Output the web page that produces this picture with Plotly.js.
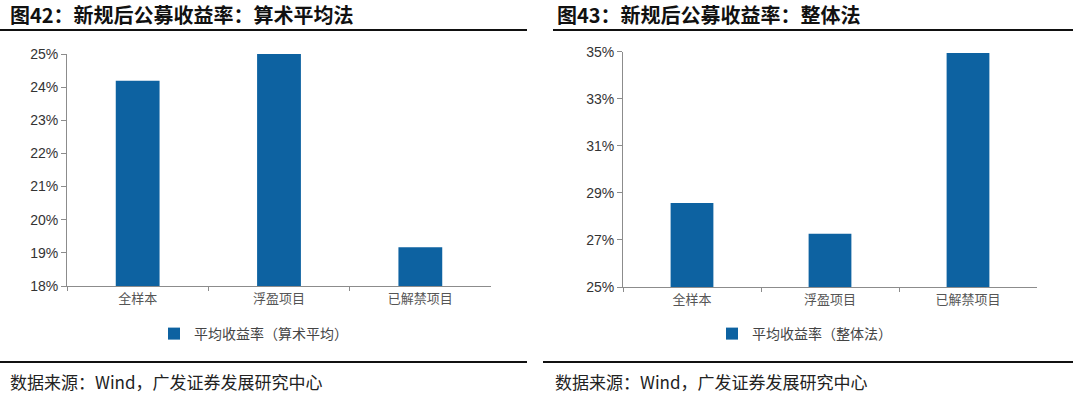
<!DOCTYPE html>
<html>
<head>
<meta charset="utf-8">
<script src="https://cdn.plot.ly/plotly-3.0.1.min.js"></script>
<style>
html,body{margin:0;padding:0;background:#fff;}
#chart{width:1080px;height:399px;}
</style>
</head>
<body>
<div id="chart"></div>
<script>
// Data
const categories = ['全样本', '浮盈项目', '已解禁项目'];
const arithmeticValues = [24.19, 25.0, 19.17];
const overallValues = [28.57, 27.26, 34.95];
const leftTitle = '图42：新规后公募收益率：算术平均法';
const rightTitle = '图43：新规后公募收益率：整体法';
const leftSeriesName = '平均收益率（算术平均）';
const rightSeriesName = '平均收益率（整体法）';
const sourceText = '数据来源：Wind，广发证券发展研究中心';
const leftTicks = [18, 19, 20, 21, 22, 23, 24, 25];
const leftTickLabels = ['18%', '19%', '20%', '21%', '22%', '23%', '24%', '25%'];
const rightTicks = [25, 27, 29, 31, 33, 35];
const rightTickLabels = ['25%', '27%', '29%', '31%', '33%', '35%'];

const W = 1080, H = 399;
const px = v => v / W;
const py = v => 1 - v / H;

const barColor = '#0D62A1';
const cjk = '"Noto Sans CJK SC", "Liberation Sans", Arial, sans-serif';
const num = '"Liberation Sans", Arial, sans-serif';

const traces = [
  {
    type: 'bar', x: categories, y: arithmeticValues, name: leftSeriesName,
    xaxis: 'x', yaxis: 'y', marker: {color: barColor}, legend: 'legend',
    hoverinfo: 'x+y'
  },
  {
    type: 'bar', x: categories, y: overallValues, name: rightSeriesName,
    xaxis: 'x2', yaxis: 'y2', marker: {color: barColor}, legend: 'legend2',
    hoverinfo: 'x+y'
  }
];

const xCommon = {
  type: 'category', showline: true, linecolor: '#8c8c8c', linewidth: 1,
  ticks: 'outside', tickson: 'boundaries', ticklen: 4, tickcolor: '#8c8c8c',
  showgrid: false, zeroline: false,
  tickfont: {family: cjk, size: 13, color: '#555'}
};
const yCommon = {
  showline: true, linecolor: '#8c8c8c', linewidth: 1,
  ticks: 'outside', ticklen: 5, tickcolor: '#8c8c8c',
  showgrid: false, zeroline: false, tickmode: 'array',
  tickfont: {family: num, size: 14, color: '#333'}
};

const layout = {
  width: W, height: H,
  margin: {l: 0, r: 0, t: 0, b: 0},
  paper_bgcolor: '#fff', plot_bgcolor: '#fff',
  bargap: 0.69,
  showlegend: true,
  xaxis: Object.assign({}, xCommon, {domain: [px(67), px(491)], anchor: 'y'}),
  yaxis: Object.assign({}, yCommon, {domain: [py(286), py(54)], anchor: 'x',
    range: [18, 25], tickvals: leftTicks, ticktext: leftTickLabels}),
  xaxis2: Object.assign({}, xCommon, {domain: [px(623), px(1037)], anchor: 'y2'}),
  yaxis2: Object.assign({}, yCommon, {domain: [py(287), py(51.7)], anchor: 'x2',
    range: [25, 35], tickvals: rightTicks, ticktext: rightTickLabels}),
  legend: {
    x: px(154), y: py(334), xanchor: 'left', yanchor: 'middle',
    orientation: 'h', bgcolor: 'rgba(0,0,0,0)',
    font: {family: cjk, size: 14, color: '#444'},
    itemwidth: 30
  },
  legend2: {
    x: px(712), y: py(334), xanchor: 'left', yanchor: 'middle',
    orientation: 'h', bgcolor: 'rgba(0,0,0,0)',
    font: {family: cjk, size: 14, color: '#444'},
    itemwidth: 30
  },
  shapes: [
    {type: 'line', xref: 'paper', yref: 'paper', x0: 0, x1: px(527), y0: py(30), y1: py(30), line: {color: '#111', width: 2}},
    {type: 'line', xref: 'paper', yref: 'paper', x0: px(553), x1: px(1073), y0: py(30), y1: py(30), line: {color: '#111', width: 2}},
    {type: 'line', xref: 'paper', yref: 'paper', x0: 0, x1: px(527), y0: py(362), y1: py(362), line: {color: '#111', width: 2}},
    {type: 'line', xref: 'paper', yref: 'paper', x0: px(543), x1: px(1073), y0: py(362), y1: py(362), line: {color: '#111', width: 2}}
  ],
  annotations: [
    {text: '<b>' + leftTitle + '</b>', xref: 'paper', yref: 'paper', x: px(8), y: py(14),
      xanchor: 'left', yanchor: 'middle', showarrow: false,
      font: {family: cjk, size: 20, color: '#111'}},
    {text: '<b>' + rightTitle + '</b>', xref: 'paper', yref: 'paper', x: px(555), y: py(14),
      xanchor: 'left', yanchor: 'middle', showarrow: false,
      font: {family: cjk, size: 20, color: '#111'}},
    {text: sourceText, xref: 'paper', yref: 'paper', x: px(8), y: py(381),
      xanchor: 'left', yanchor: 'middle', showarrow: false,
      font: {family: cjk, size: 17, color: '#222'}},
    {text: sourceText, xref: 'paper', yref: 'paper', x: px(553), y: py(381),
      xanchor: 'left', yanchor: 'middle', showarrow: false,
      font: {family: cjk, size: 17, color: '#222'}}
  ]
};

Plotly.newPlot('chart', traces, layout, {displayModeBar: false, staticPlot: true});
</script>
</body>
</html>
